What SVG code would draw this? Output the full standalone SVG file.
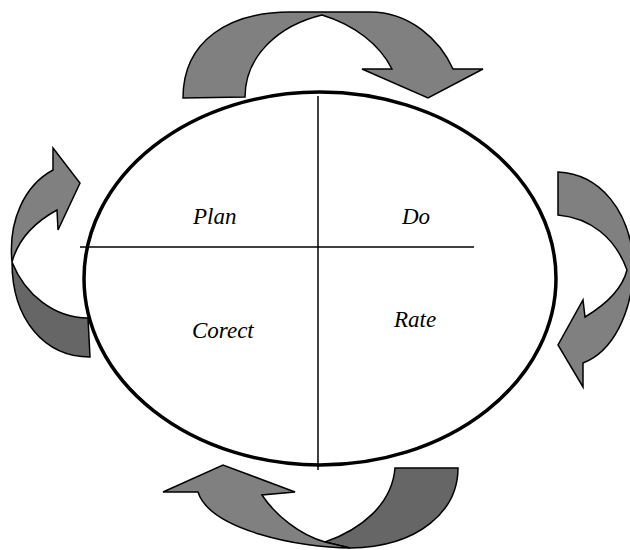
<svg xmlns="http://www.w3.org/2000/svg" width="630" height="550" viewBox="0 0 630 550">
<style>
.light{fill:#808080;stroke:#000;stroke-width:1.5;stroke-linejoin:miter}
.dark{fill:#666666;stroke:#000;stroke-width:1.5;stroke-linejoin:miter}
.lbl{font-style:italic;font-size:23px;fill:#000}
.div{stroke:#000;stroke-width:1.5}
</style>
<rect width="630" height="550" fill="#fff"/>
<g id="cycle">
<ellipse cx="320" cy="278.5" rx="236" ry="186.5" fill="#fff" stroke="#000" stroke-width="3.5"/>
</g>
<g id="connectors">
<line class="div" x1="318" y1="96" x2="318" y2="470"/>
<line class="div" x1="80" y1="247" x2="474" y2="247"/>
<g id="arrow-top">
<path class="light" d="M183,98 C183,40 230,12 290,12 L370,12 C410,12 440,40 453,69 L483,69 L428,98 L362,69 L392,69 C380,45 355,25 322,15 C280,25 245,55 245,97 Z"/>
</g>
<g id="arrow-right">
<path class="light" d="M558,172 C600,174 630,210 634,265 C632,315 612,352 583,363 L583,387 L558,345 L583,300 L585,317 C605,305 622,290 627,270 C615,237 590,218 558,215 Z"/>
</g>
<g id="arrow-bottom">
<path class="dark" d="M395,468 L458,468 C458,510 420,547 350,548 L325,542 C360,530 392,505 395,468 Z"/>
<path class="light" d="M350,548 C300,548 210,530 198,492 L163,492 L223,465 L295,492 L262,495 C275,515 300,535 325,542 Z"/>
</g>
<g id="arrow-left">
<path class="dark" d="M12,262 C12,320 45,357 90,357 L88,318 C55,318 25,295 12,262 Z"/>
<path class="light" d="M12,262 C8,220 25,185 53,170 L53,148 L80,183 L58,230 L57,210 C35,222 18,240 12,262 Z"/>
</g>
</g>
<g id="plan"><text class="lbl" font-family="'Liberation Serif', 'Times New Roman', serif" x="193" y="224">Plan</text></g>
<g id="do"><text class="lbl" font-family="'Liberation Serif', 'Times New Roman', serif" x="402" y="224">Do</text></g>
<g id="corect"><text class="lbl" font-family="'Liberation Serif', 'Times New Roman', serif" x="192" y="338">Corect</text></g>
<g id="rate"><text class="lbl" font-family="'Liberation Serif', 'Times New Roman', serif" x="394" y="327">Rate</text></g>
</svg>
